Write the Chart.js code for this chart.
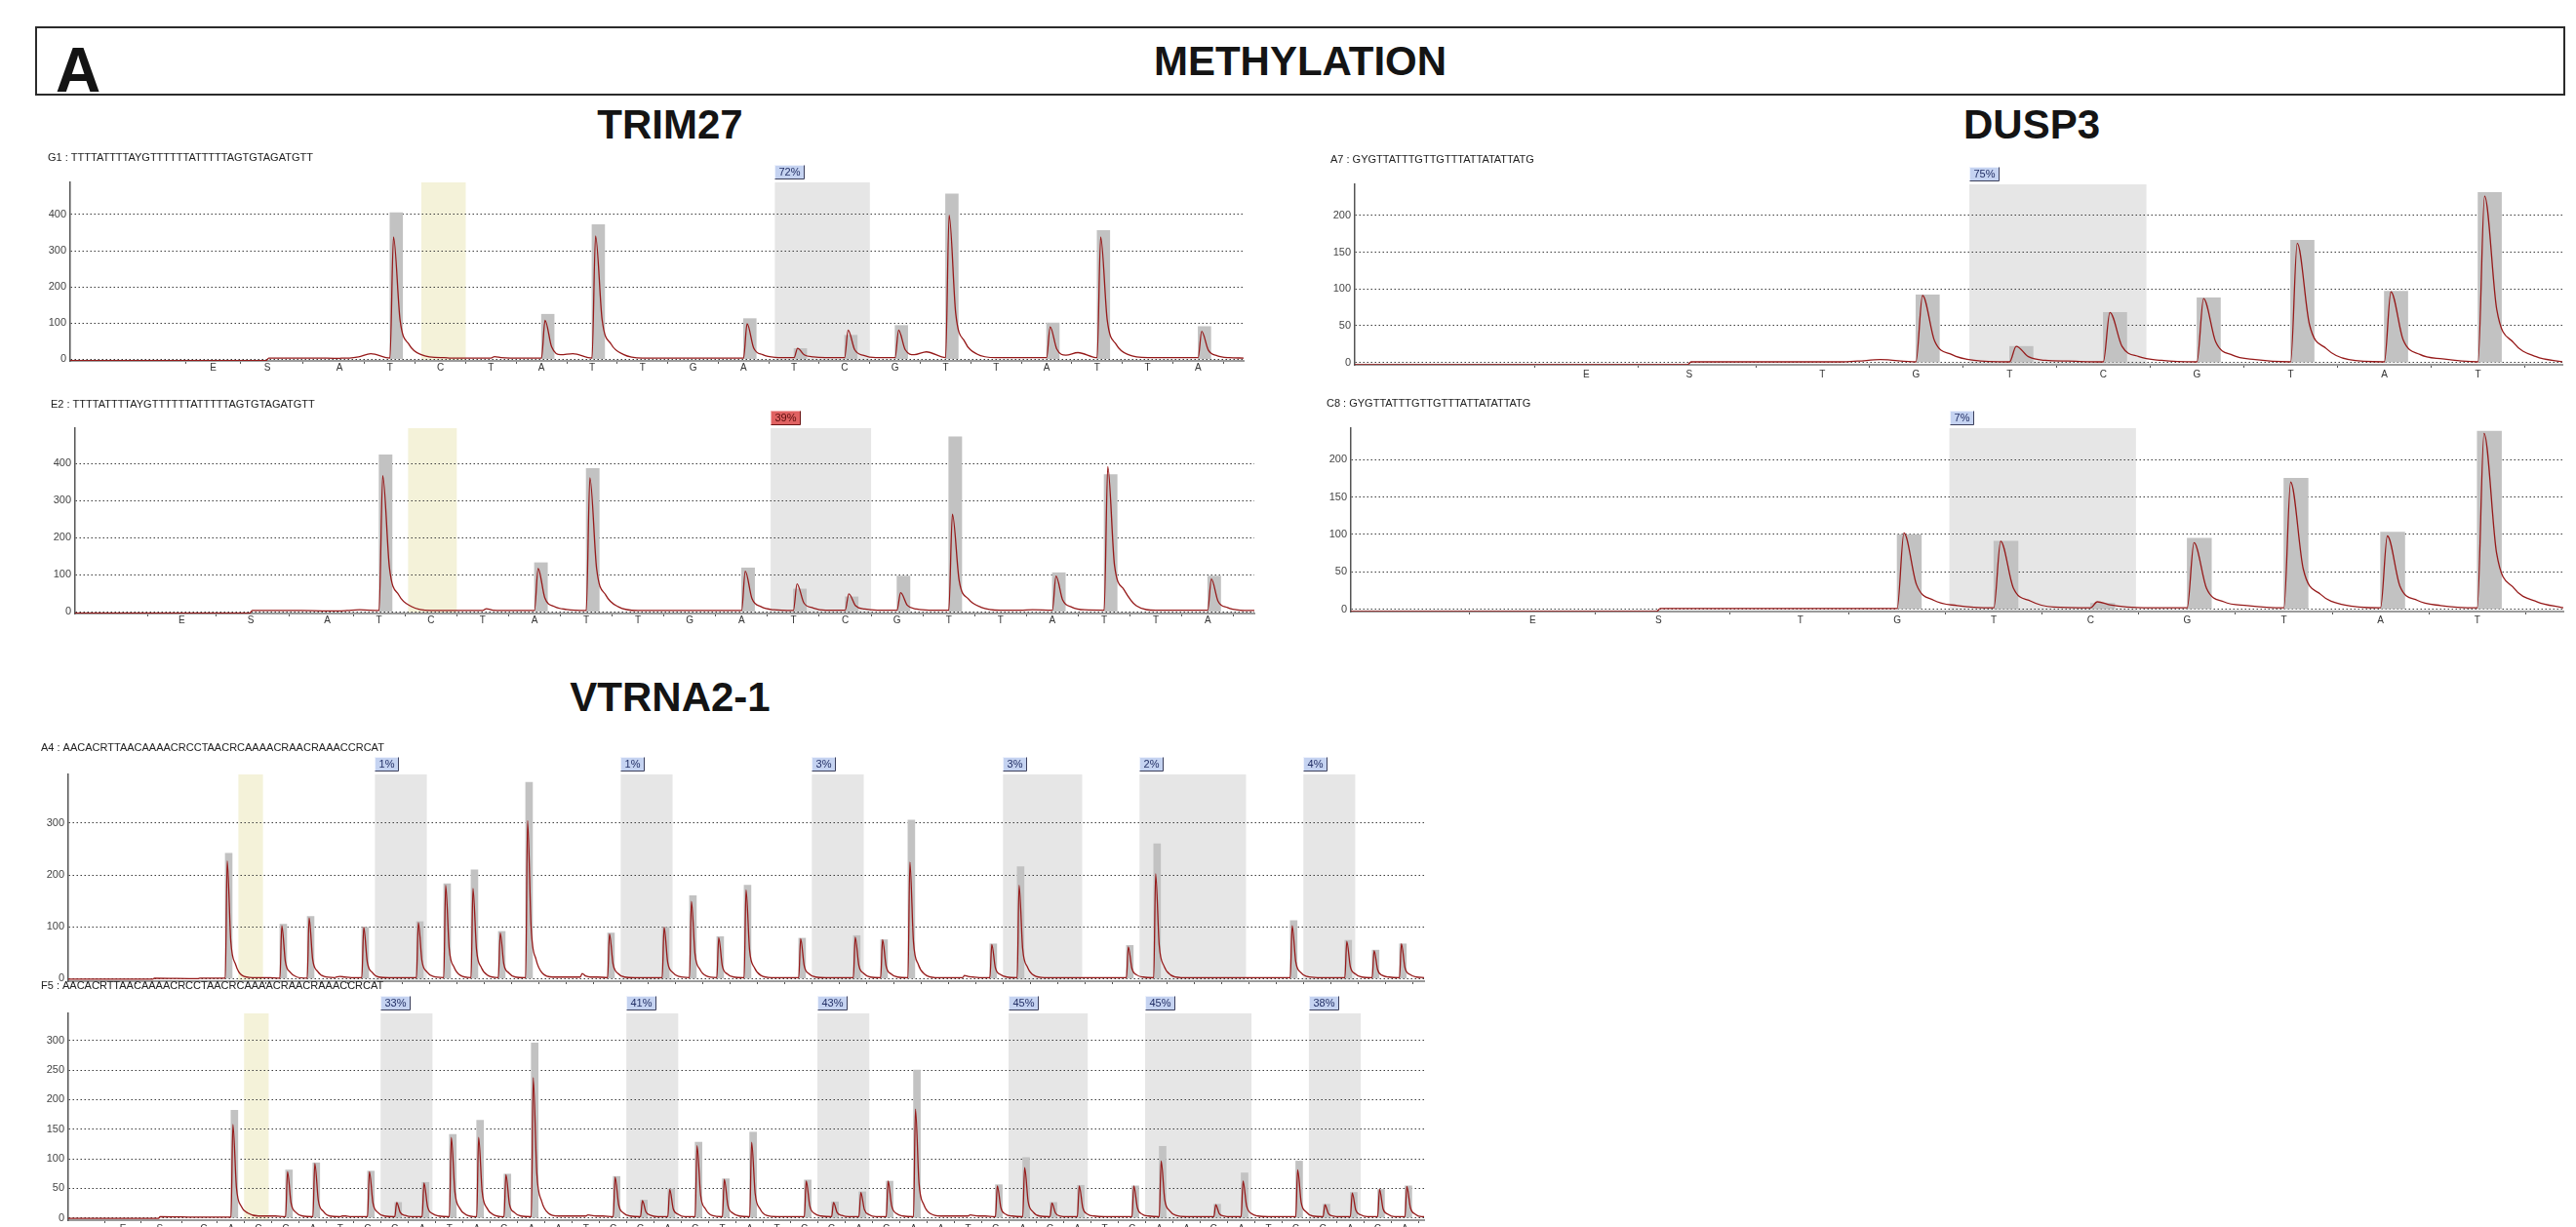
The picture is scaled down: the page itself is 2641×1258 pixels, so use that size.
<!DOCTYPE html>
<html>
<head>
<meta charset="utf-8">
<script src="https://cdn.jsdelivr.net/npm/chart.js@4.4.0/dist/chart.umd.min.js"></script>
<style>
  html, body { margin: 0; padding: 0; background: #fff; }
  body { width: 2641px; height: 1258px; overflow: hidden; position: relative; font-family: "Liberation Sans", Arial, sans-serif; }
  .box { position: absolute; left: 36px; top: 27px; width: 2590px; height: 67px; border: 2px solid #2b2b2b; }
  .t { position: absolute; font-weight: bold; color: #141414; line-height: 1; white-space: nowrap; }
  .c { width: 600px; text-align: center; }
  canvas { position: absolute; }
</style>
</head>
<body>
<div class="box"></div>
<div class="t" style="left:57px; top:40px; font-size:64px;">A</div>
<div class="t c" style="left:1033px; top:42px; font-size:42px;">METHYLATION</div>
<div class="t c" style="left:387px; top:107px; font-size:42px;">TRIM27</div>
<div class="t c" style="left:1783px; top:107px; font-size:42px;">DUSP3</div>
<div class="t c" style="left:387px; top:694px; font-size:42px;">VTRNA2-1</div>

<script>
// ---- data ----
// sample times inside one dispensation cycle for the trace rows
var traceT = [0, 0.07, 0.2, 0.38, 0.62];

// TRIM27
var trimLetters = ['E','S','A','T','C','T','A','T','T','G','A','T','C','G','T','T','A','T','T','A'];
var trimCtrl = [3];
var trimCpg = [[10, 11]];
var yTicksTrim = [0, 100, 200, 300, 400];

var g1Seq = 'G1 : TTTTATTTTAYGTTTTTTATTTTTAGTGTAGATGTT';
var g1ES = [-1.5, -0.43];
var g1Pct = ['72%'];
var g1Bars = [0, 405, 0, 0, 124, 372, 0, 0, 112, 29, 66, 93, 457, 0, 100, 356, 0, 90];
var g1Lead = [[-4.33, -4], [-0.45, -4], [-0.4, 3], [0.5, 3]];
var g1Trace = [
  [2, 3, 3, 6, 15], [3, 338, 108, 40, 12], [4, 4, 3, 3, 3], [3, 7, 4, 3, 3],
  [3, 107, 34, 12, 15], [3, 341, 109, 41, 13], [3, 3, 3, 3, 3], [3, 3, 3, 3, 3],
  [3, 98, 31, 12, 5], [4, 30, 12, 6, 4], [4, 80, 26, 10, 4], [4, 80, 26, 12, 20],
  [4, 398, 127, 48, 14], [4, 4, 4, 4, 4], [4, 89, 28, 11, 18], [4, 338, 108, 40, 12],
  [4, 4, 4, 4, 4], [4, 77, 25, 9, 4]
];
var g1Tail = [18.9, 3];

var e2Seq = 'E2 : TTTTATTTTAYGTTTTTTATTTTTAGTGTAGATGTT';
var e2ES = [-1.81, -0.48];
var e2Pct = ['39%'];
var e2Bars = [0, 423, 0, 0, 132, 386, 0, 0, 118, 61, 40, 96, 472, 0, 105, 370, 0, 96];
var e2Lead = [[-3.87, -4], [-0.5, -4], [-0.45, 3], [0.5, 3]];
var e2Trace = [
  [2, 2, 2, 3, 5], [3, 367, 118, 45, 14], [3, 3, 3, 3, 3], [3, 8, 4, 3, 3],
  [3, 116, 37, 14, 6], [3, 361, 116, 44, 13], [3, 3, 3, 3, 3], [3, 3, 3, 3, 3],
  [3, 109, 35, 13, 5], [3, 75, 24, 10, 4], [4, 48, 16, 7, 4], [4, 51, 17, 7, 4],
  [4, 263, 84, 34, 12], [4, 4, 4, 4, 5], [4, 96, 31, 12, 5], [4, 391, 125, 60, 16],
  [4, 4, 4, 4, 4], [4, 88, 28, 11, 4]
];
var e2Tail = [18.9, 3];

// DUSP3
var duspLetters = ['E','S','T','G','T','C','G','T','A','T'];
var duspCtrl = [];
var duspCpg = [[3, 4]];
var yTicksDusp = [0, 50, 100, 150, 200];

var a7Seq = 'A7 : GYGTTATTTGTTGTTTATTATATTATG';
var a7ES = [-1.52, -0.42];
var a7Pct = ['75%'];
var a7Bars = [0, 92, 22, 68, 88, 166, 97, 231];
var a7Lead = [[-3.99, -3], [-0.44, -3], [-0.4, 1]];
var a7Trace = [
  [1, 1, 1, 2, 4], [1, 91, 29, 11, 3], [1, 22, 8, 3, 2], [1, 68, 22, 8, 3],
  [1, 87, 28, 10, 4], [1, 162, 52, 19, 4], [1, 96, 31, 11, 5], [1, 226, 72, 27, 8]
];
var a7Tail = [8.9, 1];

var c8Seq = 'C8 : GYGTTATTTGTTGTTTATTATATTATG';
var c8ES = [-1.77, -0.47];
var c8Pct = ['7%'];
var c8Bars = [0, 100, 91, 8, 95, 175, 103, 238];
var c8Lead = [[-3.65, -3], [-0.49, -3], [-0.45, 1]];
var c8Trace = [
  [1, 1, 1, 1, 1], [1, 102, 33, 12, 5], [2, 91, 29, 11, 3], [2, 10, 6, 3, 2],
  [2, 89, 28, 10, 5], [2, 170, 54, 20, 6], [2, 98, 31, 12, 5], [2, 235, 75, 28, 10]
];
var c8Tail = [8.89, 2];

// VTRNA2-1 (dispensations k = -1 .. 43)
var vtLetters = ['E','S'].concat('CACCATCGATACAATCGACTATCGACAATCAGATCAAGATCGACA'.split(''));
var vtCtrl = [1];
var vtCpg = [[6, 7], [15, 16], [22, 23], [29, 31], [34, 37], [40, 41]];
var yTicksA4 = [0, 100, 200, 300];
var yTicksF5 = [0, 50, 100, 150, 200, 250, 300];

var a4Seq = 'A4 : AACACRTTAACAAAACRCCTAACRCAAAACRAACRAAACCRCAT';
var a4ES = [-3.96, -2.61];
var a4Pct = ['1%', '1%', '3%', '3%', '2%', '4%'];
var a4Bars = [0, 242, 0, 105, 120, 0, 99, 0, 110, 183, 210, 91, 379, 0, 0, 88, 0, 99, 160, 81, 180, 0, 78,
  0, 83, 75, 306, 0, 0, 67, 216, 0, 0, 0, 64, 260, 0, 0, 0, 0, 112, 0, 74, 55, 67];
var a4Lead = [[-5.75, -1], [-2.65, -1], [-2.6, 1]];
var a4Trace = [
  [0, 1, 1, 1, 1], [1, 227, 73, 27, 6], [2, 2, 2, 2, 2], [1, 102, 33, 12, 3], [1, 117, 37, 14, 4],
  [2, 3, 4, 3, 2], [2, 99, 32, 12, 3], [2, 2, 2, 2, 2], [2, 108, 35, 13, 4], [2, 180, 58, 22, 6],
  [2, 174, 56, 21, 6], [2, 88, 28, 11, 3], [2, 305, 98, 37, 10], [3, 3, 3, 3, 3], [3, 10, 5, 3, 3],
  [2, 86, 28, 10, 3], [2, 2, 2, 2, 2], [2, 99, 32, 12, 4], [2, 149, 48, 18, 5], [2, 79, 25, 9, 3],
  [2, 171, 55, 21, 6], [2, 2, 2, 2, 2], [2, 77, 25, 9, 3], [2, 2, 2, 2, 2], [2, 80, 26, 10, 3],
  [2, 75, 24, 9, 3], [2, 225, 72, 27, 8], [2, 2, 2, 2, 2], [2, 6, 4, 3, 2], [2, 66, 21, 8, 3],
  [2, 180, 58, 22, 6], [2, 2, 2, 2, 2], [2, 2, 2, 2, 2], [2, 2, 2, 2, 2], [2, 61, 20, 7, 3],
  [2, 202, 65, 24, 7], [2, 2, 2, 2, 2], [2, 2, 2, 2, 2], [2, 2, 2, 2, 2], [2, 2, 2, 2, 2],
  [2, 102, 33, 12, 4], [2, 2, 2, 2, 2], [2, 72, 23, 9, 3], [2, 54, 17, 6, 3], [2, 67, 21, 8, 3]
];
var a4Tail = [43.9, 2];

var f5Seq = 'F5 : AACACRTTAACAAAACRCCTAACRCAAAACRAACRAAACCRCAT';
var f5ES = [-3.96, -2.61];
var f5Pct = ['33%', '41%', '43%', '45%', '45%', '38%'];
var f5Bars = [0, 182, 0, 81, 93, 0, 79, 26, 60, 141, 165, 74, 296, 0, 0, 70, 30, 49, 128, 66, 145, 0, 64,
  27, 44, 62, 250, 0, 0, 56, 102, 26, 55, 0, 54, 121, 0, 23, 76, 0, 96, 23, 43, 48, 54];
var f5Lead = [[-5.96, -1], [-2.65, -1], [-2.6, 2]];
var f5Trace = [
  [1, 1, 1, 1, 1], [1, 158, 51, 19, 8], [3, 3, 3, 3, 3], [2, 78, 25, 9, 3], [2, 92, 29, 11, 3],
  [2, 3, 3, 2, 2], [2, 78, 25, 9, 3], [2, 26, 9, 4, 2], [2, 59, 19, 7, 3], [2, 136, 44, 16, 5],
  [2, 136, 44, 16, 5], [2, 73, 23, 9, 3], [2, 237, 76, 28, 8], [3, 3, 3, 3, 3], [3, 5, 4, 3, 3],
  [2, 69, 22, 8, 3], [2, 29, 10, 4, 2], [2, 48, 15, 6, 2], [2, 122, 39, 15, 4], [2, 65, 21, 8, 3],
  [2, 128, 41, 15, 4], [2, 2, 2, 2, 2], [2, 62, 20, 7, 3], [2, 26, 9, 4, 2], [2, 43, 14, 5, 2],
  [2, 62, 20, 7, 3], [2, 184, 59, 22, 7], [3, 3, 3, 3, 3], [3, 5, 4, 3, 3], [2, 54, 17, 6, 3],
  [2, 85, 27, 10, 3], [2, 25, 8, 3, 2], [2, 54, 17, 6, 3], [2, 2, 2, 2, 2], [2, 54, 17, 6, 3],
  [2, 96, 31, 12, 4], [2, 2, 2, 2, 2], [2, 22, 7, 3, 2], [2, 62, 20, 7, 3], [2, 2, 2, 2, 2],
  [2, 81, 26, 10, 3], [2, 22, 7, 3, 2], [2, 42, 13, 5, 2], [2, 48, 15, 6, 2], [2, 53, 17, 6, 2]
];
var f5Tail = [43.7, 2];

// ---- layout (page pixels of each plot area) ----
var Y_W = 40, PAD_T = 44, X_H = 24, PAD_R = 4, BAR_W = 0.25;

var panels = [
  { seq: g1Seq, letters: trimLetters, es: g1ES, first: 1, bars: g1Bars, lead: g1Lead, trace: g1Trace, tail: g1Tail,
    ctrl: trimCtrl, cpg: trimCpg, pct: g1Pct, red: false, yTicks: yTicksTrim,
    box: { left: 72, right: 1275, top: 187, bottom: 370 }, x: [-4.33, 18.9], y: [-5, 489], lbl: [49, 162],
    reg: [0.38, 0.5], lpad: -2, showLetters: true },
  { seq: e2Seq, letters: trimLetters, es: e2ES, first: 1, bars: e2Bars, lead: e2Lead, trace: e2Trace, tail: e2Tail,
    ctrl: trimCtrl, cpg: trimCpg, pct: e2Pct, red: true, yTicks: yTicksTrim,
    box: { left: 77, right: 1286, top: 439, bottom: 629 }, x: [-3.87, 18.9], y: [-5, 495], lbl: [52, 415],
    reg: [0.44, 0.5], lpad: -2, showLetters: true },
  { seq: a7Seq, letters: duspLetters, es: a7ES, first: 1, bars: a7Bars, lead: a7Lead, trace: a7Trace, tail: a7Tail,
    ctrl: duspCtrl, cpg: duspCpg, pct: a7Pct, red: false, yTicks: yTicksDusp,
    box: { left: 1389, right: 2627, top: 189, bottom: 374 }, x: [-3.99, 8.9], y: [-3, 242], lbl: [1364, 164],
    reg: [0.43, 0.46], lpad: 1, showLetters: true },
  { seq: c8Seq, letters: duspLetters, es: c8ES, first: 1, bars: c8Bars, lead: c8Lead, trace: c8Trace, tail: c8Tail,
    ctrl: duspCtrl, cpg: duspCpg, pct: c8Pct, red: false, yTicks: yTicksDusp,
    box: { left: 1385, right: 2628, top: 439, bottom: 627 }, x: [-3.65, 8.89], y: [-3, 242], lbl: [1360, 414],
    reg: [0.46, 0.47], lpad: 0, showLetters: true },
  { seq: a4Seq, letters: vtLetters, es: a4ES, first: -1, bars: a4Bars, lead: a4Lead, trace: a4Trace, tail: a4Tail,
    ctrl: vtCtrl, cpg: vtCpg, pct: a4Pct, red: false, yTicks: yTicksA4,
    box: { left: 70, right: 1460, top: 794, bottom: 1006 }, x: [-5.75, 43.9], y: [-5, 394], lbl: [42, 767],
    reg: [0.52, 0.38], lpad: 0, showLetters: false },
  { seq: f5Seq, letters: vtLetters, es: f5ES, first: -1, bars: f5Bars, lead: f5Lead, trace: f5Trace, tail: f5Tail,
    ctrl: vtCtrl, cpg: vtCpg, pct: f5Pct, red: false, yTicks: yTicksF5,
    box: { left: 70, right: 1460, top: 1039, bottom: 1251 }, x: [-5.96, 43.7], y: [-4, 346], lbl: [42, 1011],
    reg: [0.52, 0.38], lpad: 0, showLetters: true }
];

Chart.defaults.font.family = '"Liberation Sans", Arial, sans-serif';

function decor(p) {
  return {
    id: 'decor',
    beforeDraw: function (chart) {
      var ctx = chart.ctx, a = chart.chartArea, sx = chart.scales.x;
      ctx.save();
      ctx.fillStyle = '#f4f2d9';
      p.ctrl.forEach(function (k) {
        var x1 = sx.getPixelForValue(k - p.reg[0]), x2 = sx.getPixelForValue(k + p.reg[1]);
        ctx.fillRect(x1, a.top, x2 - x1, a.bottom - a.top);
      });
      ctx.fillStyle = '#e6e6e6';
      p.cpg.forEach(function (r) {
        var x1 = sx.getPixelForValue(r[0] - p.reg[0]), x2 = sx.getPixelForValue(r[1] + p.reg[1]);
        ctx.fillRect(x1, a.top, x2 - x1, a.bottom - a.top);
      });
      ctx.restore();
    },
    afterDraw: function (chart) {
      var ctx = chart.ctx, a = chart.chartArea, sx = chart.scales.x;
      ctx.save();
      ctx.font = '11px "Liberation Sans", Arial';
      ctx.fillStyle = '#222';
      ctx.textBaseline = 'middle';
      ctx.textAlign = 'left';
      ctx.fillText(p.seq, a.left + (p.lbl[0] - p.box.left), a.top - (p.box.top - p.lbl[1]));

      p.cpg.forEach(function (r, i) {
        var txt = p.pct[i];
        var bx = Math.round(sx.getPixelForValue(r[0] - p.reg[0])) + 0.5;
        var w = Math.round(ctx.measureText(txt).width + 8), h = 14;
        var by = Math.round(a.top - 4 - h) + 0.5;
        ctx.fillStyle = p.red ? '#e06262' : '#c5d3f1';
        ctx.fillRect(bx, by, w, h);
        ctx.strokeStyle = p.red ? '#f3b0b0' : '#eef2fc';
        ctx.lineWidth = 1;
        ctx.beginPath();
        ctx.moveTo(bx, by + h); ctx.lineTo(bx, by); ctx.lineTo(bx + w, by);
        ctx.stroke();
        ctx.strokeStyle = p.red ? '#6a1414' : '#3b3f5c';
        ctx.beginPath();
        ctx.moveTo(bx + w, by); ctx.lineTo(bx + w, by + h); ctx.lineTo(bx, by + h);
        ctx.stroke();
        ctx.fillStyle = p.red ? '#5a0c0c' : '#233066';
        ctx.textAlign = 'center';
        ctx.fillText(txt, bx + w / 2, by + h / 2 + 0.5);
        ctx.textAlign = 'left';
      });
      ctx.restore();
    }
  };
}

panels.forEach(function (p) {
  var b = p.box;
  var cv = document.createElement('canvas');
  var cl = b.left - Y_W, ct = b.top - PAD_T;
  cv.width = b.right - cl + PAD_R;
  cv.height = b.bottom - ct + X_H;
  cv.style.left = cl + 'px';
  cv.style.top = ct + 'px';
  document.body.appendChild(cv);

  // tick positions: E, S, then one per dispensation
  var tickPos = p.es.slice();
  for (var i = 0; i < p.letters.length - 2; i++) tickPos.push(p.first + i);

  var barData = [];
  p.bars.forEach(function (v, i) {
    if (v > 0) barData.push({ x: p.first + i + BAR_W / 2, y: v });
  });

  var lineData = p.lead.map(function (q) { return { x: q[0], y: q[1] }; });
  p.trace.forEach(function (row, i) {
    row.forEach(function (v, j) { lineData.push({ x: p.first + i + traceT[j], y: v }); });
  });
  lineData.push({ x: p.tail[0], y: p.tail[1] });

  var pxPerUnit = (b.right - b.left) / (p.x[1] - p.x[0]);

  new Chart(cv, {
    type: 'bar',
    data: {
      datasets: [
        { type: 'line', data: lineData, borderColor: '#961a1a', borderWidth: 1.3, pointRadius: 0,
          cubicInterpolationMode: 'monotone', fill: false, order: 1 },
        { type: 'bar', data: barData, backgroundColor: '#c2c2c2', borderWidth: 0, grouped: false,
          barThickness: BAR_W * pxPerUnit, order: 2 }
      ]
    },
    options: {
      responsive: false,
      animation: false,
      devicePixelRatio: 1,
      events: [],
      layout: { padding: { top: PAD_T, right: PAD_R, left: 0, bottom: 0 } },
      plugins: { legend: { display: false }, tooltip: { enabled: false } },
      scales: {
        x: {
          type: 'linear', min: p.x[0], max: p.x[1], offset: false,
          afterBuildTicks: function (s) { s.ticks = tickPos.map(function (v) { return { value: v }; }); },
          afterFit: function (s) { s.height = X_H; },
          grid: { display: true, drawOnChartArea: false, drawTicks: true, tickLength: 3, color: '#555' },
          border: { color: '#9a9a9a', width: 2 },
          ticks: {
            display: p.showLetters, autoSkip: false, maxRotation: 0, padding: p.lpad,
            color: '#333', font: { size: 10 },
            callback: function (v, i) { return p.letters[i]; }
          }
        },
        y: {
          min: p.y[0], max: p.y[1],
          afterBuildTicks: function (s) { s.ticks = p.yTicks.map(function (v) { return { value: v }; }); },
          afterFit: function (s) { s.width = Y_W; },
          grid: { color: '#3c3c3c', lineWidth: 1, drawTicks: false },
          border: { color: '#555', width: 1.5, dash: [1.5, 2.5] },
          ticks: { color: '#444', padding: 4, font: { size: 11 } }
        }
      }
    },
    plugins: [decor(p)]
  });
});
</script>
</body>
</html>
